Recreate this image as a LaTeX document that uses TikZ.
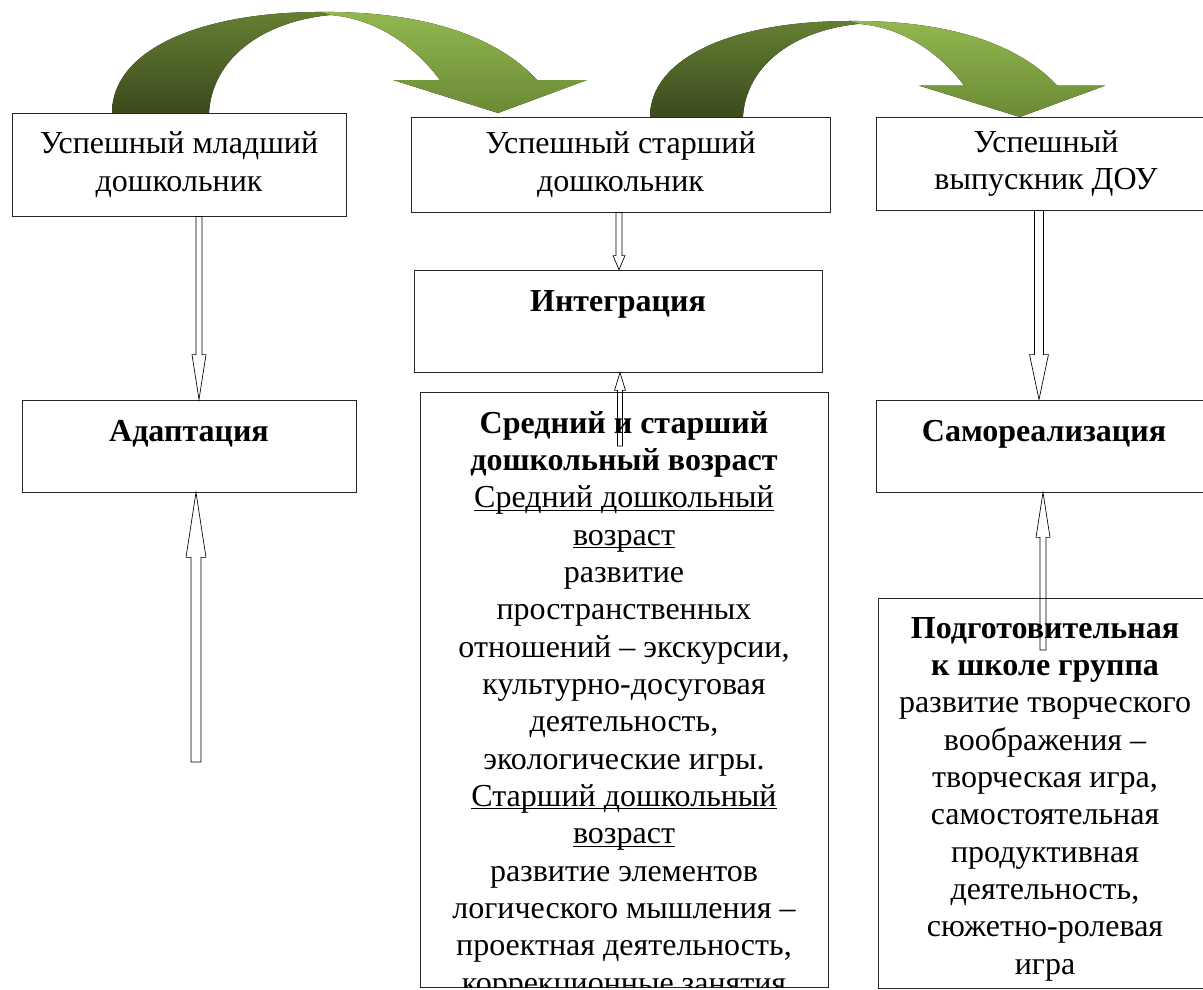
\documentclass[tikz,border=0pt]{standalone}
\usepackage{fontspec}
\setmainfont{Liberation Serif}
\usetikzlibrary{calc,fit}

\definecolor{leafdark}{HTML}{3A4A1C}
\definecolor{leafmid}{HTML}{647F33}
\definecolor{leaflight}{HTML}{93B850}
\definecolor{leafhead}{HTML}{6A8A35}

% underline that sits close to the baseline
\newcommand{\uln}[1]{\underline{\smash{#1}}}

% bent green arrow, local origin at the outer foot of the left leg
\newcommand{\bendarrow}{%
  \fill[top color=leaflight, bottom color=leafhead]
    (203,-101) .. controls (328,-103) and (393,-68) .. (425,-33)
    -- (475,-33) -- (386,0) -- (281,-33) -- (328,-33)
    .. controls (298,-73) and (258,-95) .. (218,-98) -- cycle;
  \fill[top color=leafmid, bottom color=leafdark]
    (0,0) .. controls (0,-63) and (88,-101) .. (208,-101)
    -- (218,-98) .. controls (148,-91) and (100,-53) .. (97,0) -- cycle;
}

\tikzset{
  box/.style={draw=black!85, line width=0.6pt, inner sep=0pt},
  txt/.style={font=\fontsize{24}{28}\selectfont, align=center, inner sep=0pt},
  head/.style={txt, font=\fontsize{24}{28}\selectfont\bfseries},
  hollow/.style n args={3}{draw=black, line width=0.5pt,
    to path={let \p1=(\tikztostart), \p2=(\tikztotarget), \n1={sign(\y2-\y1)} in
      (\x1-#1,\y1) -- (\x1-#1,\y2-\n1*#3) -- (\x1-#2,\y2-\n1*#3) -- (\x1,\y2)
      -- (\x1+#2,\y2-\n1*#3) -- (\x1+#1,\y2-\n1*#3) -- (\x1+#1,\y1) -- cycle}}
}

\begin{document}
\begin{tikzpicture}[x=0.75pt, y=-0.75pt]
	\path[use as bounding box, fill=white] (0,0) rectangle (1203,989);

	% green bent arrows
	\begin{scope}[shift={(112,113)}]
		\bendarrow
	\end{scope}
	\begin{scope}[shift={(650,117)}, xscale=0.958, yscale=0.95]
		\bendarrow
	\end{scope}

	% top row
	\node[box, fit={(12,113) (346,216)}] (young) {};
	\node[txt] (youngtext) at (young.center) {Успешный младший\\дошкольник};
	\node[box, fit={(411,117) (830,212)}] (senior) {};
	\node[txt] (seniortext) at (senior.center) {Успешный старший\\дошкольник};
	\node[box, fit={(876,117) (1214,210)}] (grad) {};
	\node[txt] (gradtext) at (1046,163.5) {Успешный\\выпускник ДОУ};

	% second row
	\node[box, fit={(22,400) (356,492)}] (adapt) {};
	\node[head, anchor=base] (adapttext) at (189,441) {Адаптация};
	\node[box, fit={(414,270) (822,372)}] (integ) {};
	\node[head, anchor=base] (integtext) at (618,311) {Интеграция};
	\node[box, fit={(876,400) (1214,492)}] (selfreal) {};
	\node[head, anchor=base] (selfrealtext) at (1044,441) {Самореализация};

	% lower boxes
	\node[box, fit={(420,392) (828,987)}] (middle) {};
	\begin{scope}
		\clip (middle.south west) rectangle (middle.north east);
		\node[txt, anchor=north] (middletext) at (624,406.9) {\strut\textbf{Средний и старший}\\
			\textbf{дошкольный возраст}\\
			\uln{Средний дошкольный}\\
			\uln{возраст}\\
			развитие\\
			пространственных\\
			отношений – экскурсии,\\
			культурно-досуговая\\
			деятельность,\\
			экологические игры.\\
			\uln{Старший дошкольный}\\
			\uln{возраст}\\
			развитие элементов\\
			логического мышления –\\
			проектная деятельность,\\
			коррекционные занятия};
	\end{scope}
	\node[box, fit={(878,598) (1214,988)}] (prep) {};
	\node[txt, anchor=north] (preptext) at (1045,611.9) {\strut\textbf{Подготовительная}\\
		\textbf{к школе группа}\\
		развитие творческого\\
		воображения –\\
		творческая игра,\\
		самостоятельная\\
		продуктивная\\
		деятельность,\\
		сюжетно-ролевая\\
		игра};

	% hollow arrows
	\coordinate (leftstem) at (199,300);
	\coordinate (adaptfoot) at (196,762);
	\coordinate (midstem) at (619,240);
	\coordinate (middlefoot) at (620,446);
	\coordinate (rightstem) at (1039,300);
	\coordinate (prepfoot) at (1043,650);
	\draw[hollow={2.25pt}{5.25pt}{33.75pt}] (young.south -| leftstem) to (adapt.north -| leftstem);
	\draw[hollow={3.75pt}{7.5pt}{48.75pt}] (adaptfoot) to (adapt.south -| adaptfoot);
	\draw[hollow={2.25pt}{4.5pt}{10.5pt}] (senior.south -| midstem) to (integ.north -| midstem);
	\draw[hollow={1.9pt}{4.1pt}{13.5pt}] (middlefoot) to (integ.south -| middlefoot);
	\draw[hollow={3.4pt}{7.1pt}{33.75pt}] (grad.south -| rightstem) to (selfreal.north -| rightstem);
	\draw[hollow={2.25pt}{5.25pt}{33.75pt}] (prepfoot) to (selfreal.south -| prepfoot);
\end{tikzpicture}
\end{document}
